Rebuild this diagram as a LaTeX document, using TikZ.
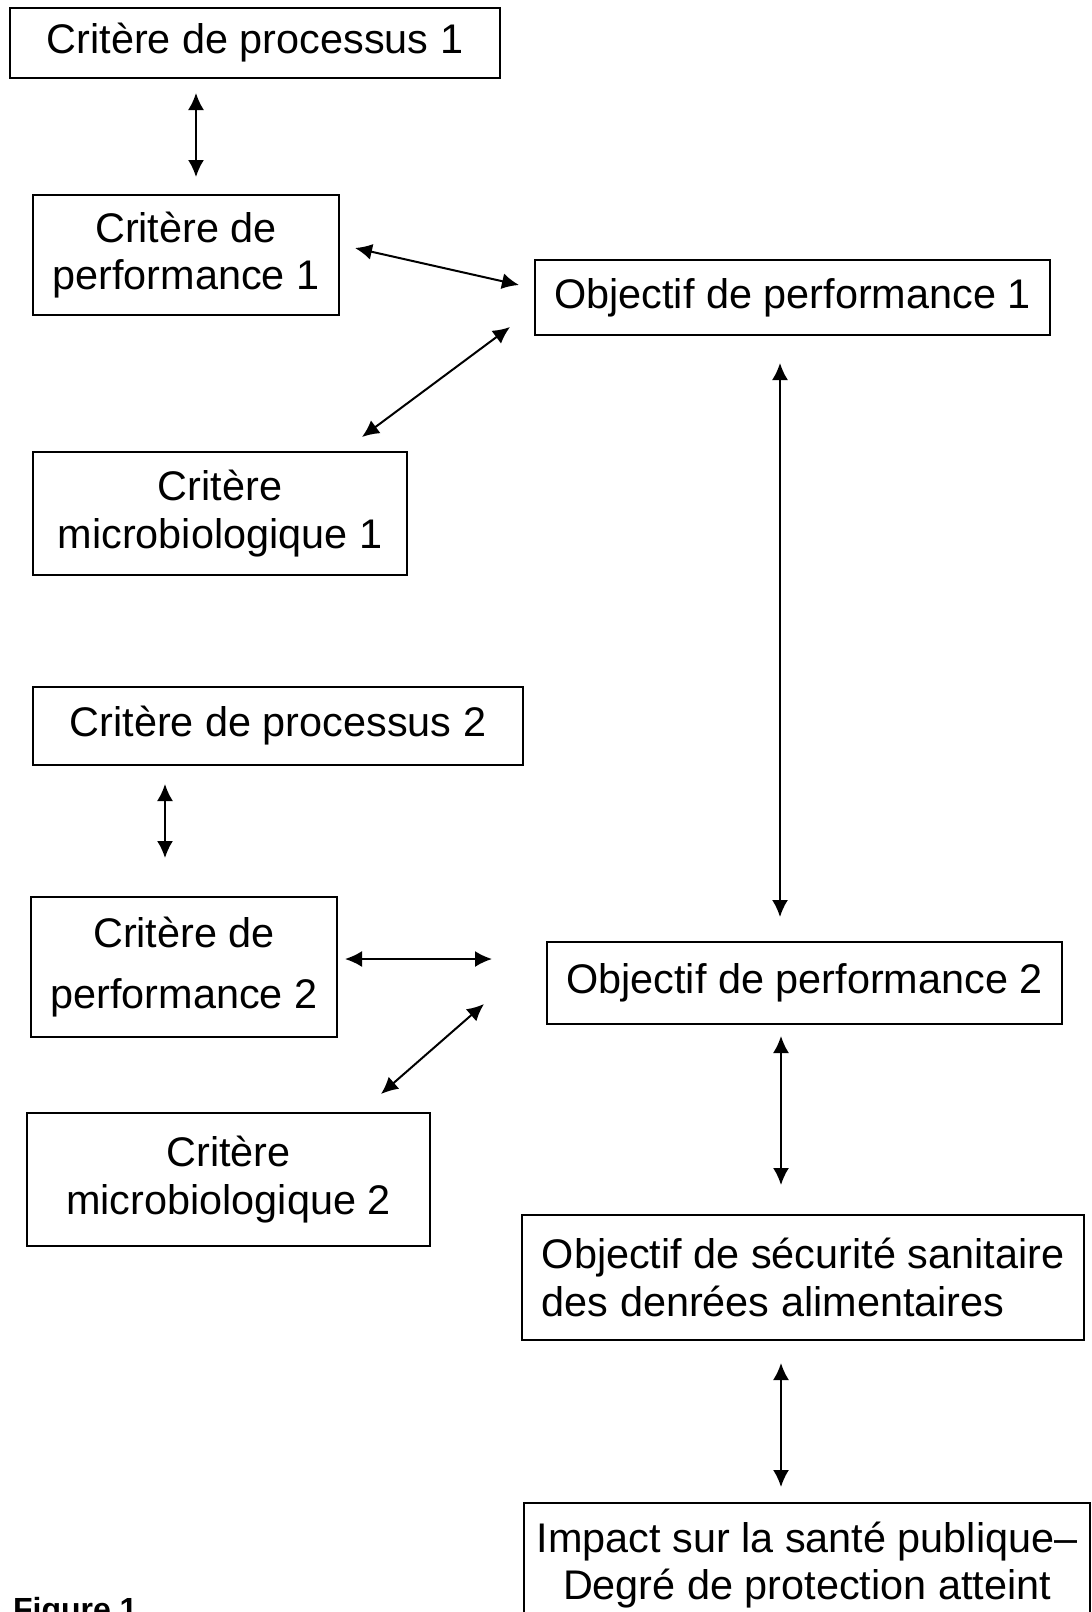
\documentclass[tikz,border=0pt]{standalone}
\usepackage{fontspec}
\setmainfont{Liberation Sans}
\usetikzlibrary{arrows.meta}

\begin{document}
\begin{tikzpicture}[x=0.5pt, y=-0.5pt,
    box/.style={draw, line width=0.75pt, inner sep=0pt, align=center,
      font=\fontsize{20.7}{23.6}\selectfont},
    link/.style={{Latex[length=8.5pt,width=8pt]}-{Latex[length=8.5pt,width=8pt]}, line width=1pt}]
          \clip (0,0) rectangle (1092,1612);
          % left column
          \node[box, minimum width=245pt, minimum height=35pt] (proc1) at (255,43) {Critère de processus 1};
          \node[box, minimum width=153pt, minimum height=60pt] (perf1) at (186,255) {Critère de\\performance 1};
          \node[box, minimum width=187pt, minimum height=61.5pt] (micro1) at (220,513.5) {Critère\\microbiologique 1};
          \node[box, minimum width=245pt, minimum height=39pt] (proc2) at (278,726) {Critère de processus 2};
          \node[box, minimum width=153pt, minimum height=70pt] (perf2) at (184,967) {Critère de\\[7pt]performance 2};
          \node[box, minimum width=201.5pt, minimum height=66.5pt] (micro2) at (228.5,1179.5) {Critère\\microbiologique 2};
          % right column
          \node[box, minimum width=257.5pt, minimum height=37.5pt] (obj1) at (792.5,297.5) {Objectif de performance 1};
          \node[box, minimum width=257.5pt, minimum height=41pt] (obj2) at (804.5,983) {Objectif de performance 2};
          \node[box, align=left, minimum width=281pt, minimum height=62.5pt] (safety) at (803,1277.5) {Objectif de sécurité sanitaire\\des denrées alimentaires};
          \node[box, minimum width=283pt, minimum height=62pt] (impact) at (807,1565) {Impact sur la santé publique–\\Degré de protection atteint};
          \node[anchor=base west, font=\fontsize{16}{19}\selectfont\bfseries] (fig) at (6,1620) {Figure 1};
          % arrow ends
          \coordinate (p1a) at (196,93);    \coordinate (p1b) at (196,177);
          \coordinate (f1a) at (355,248);   \coordinate (f1b) at (519,285);
          \coordinate (m1a) at (510,327);   \coordinate (m1b) at (362,437);
          \coordinate (o1a) at (780,363);   \coordinate (o1b) at (780,917);
          \coordinate (p2a) at (165,784);   \coordinate (p2b) at (165,858);
          \coordinate (f2a) at (345,959);   \coordinate (f2b) at (492,959);
          \coordinate (m2a) at (484,1004);  \coordinate (m2b) at (381,1094);
          \coordinate (o2a) at (781,1036);  \coordinate (o2b) at (781,1185);
          \coordinate (sa) at (781,1363);   \coordinate (sb) at (781,1487);
          \draw[link] (p1a) -- (p1b);
          \draw[link] (f1a) -- (f1b);
          \draw[link] (m1a) -- (m1b);
          \draw[link] (o1a) -- (o1b);
          \draw[link] (p2a) -- (p2b);
          \draw[link] (f2a) -- (f2b);
          \draw[link] (m2a) -- (m2b);
          \draw[link] (o2a) -- (o2b);
          \draw[link] (sa) -- (sb);
        \end{tikzpicture}
\end{document}
